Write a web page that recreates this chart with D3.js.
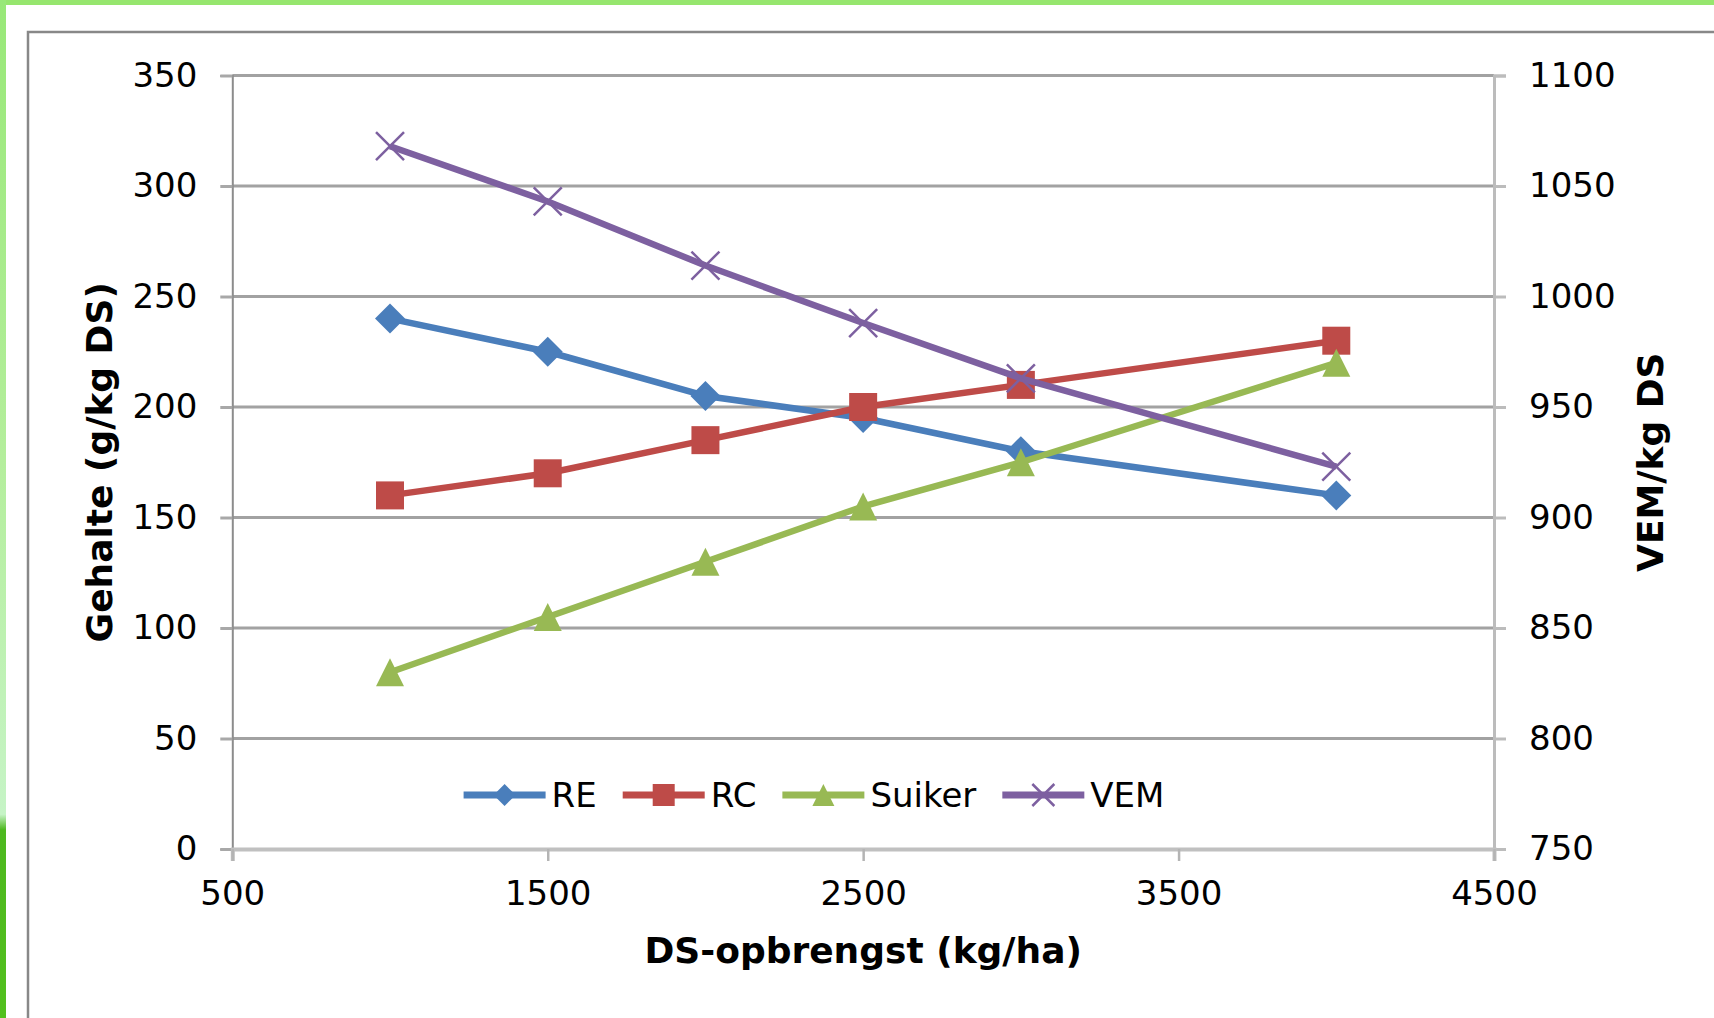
<!DOCTYPE html>
<html>
<head>
<meta charset="utf-8">
<script src="https://cdn.jsdelivr.net/npm/d3@7"></script>
<style>
  html, body { margin: 0; padding: 0; background: #fff; }
  svg { display: block; }
  text { font-family: "DejaVu Sans", Verdana, sans-serif; fill: #000; }
</style>
</head>
<body>
<svg id="chart" width="1714" height="1018"></svg>
<script>
// ---- data ----
const xValues = [1000, 1500, 2000, 2500, 3000, 4000];
const reValues = [240, 225, 205, 195, 180, 160];
const rcValues = [160, 170, 185, 200, 210, 230];
const suikerValues = [80, 105, 130, 155, 175, 220];
const vemValues = [1068, 1043, 1014, 988, 963, 923];
const seriesNames = ["RE", "RC", "Suiker", "VEM"];
const seriesColors = ["#4A7EBB", "#BE4B48", "#98B954", "#7D60A0"];
const seriesMarkers = ["diamond", "square", "triangle", "x"];
const leftTicks = [0, 50, 100, 150, 200, 250, 300, 350];
const rightTicks = [750, 800, 850, 900, 950, 1000, 1050, 1100];
const xTicks = [500, 1500, 2500, 3500, 4500];
const xTitle = "DS-opbrengst (kg/ha)";
const yLeftTitle = "Gehalte (g/kg DS)";
const yRightTitle = "VEM/kg DS";

// ---- layout ----
const W = 1714, H = 1018;
const plot = { left: 232.3, right: 1494, top: 75.5, bottom: 849 };
const svg = d3.select("#chart");

// background / page frame
svg.append("rect").attr("x", 0).attr("y", 0).attr("width", W).attr("height", H).attr("fill", "#ffffff");
const grad = svg.append("defs").append("linearGradient").attr("id", "leftGreen")
  .attr("x1", 0).attr("y1", 0).attr("x2", 0).attr("y2", 1);
grad.append("stop").attr("offset", "0").attr("stop-color", "#98e878");
grad.append("stop").attr("offset", "0.45").attr("stop-color", "#b4ee9c");
grad.append("stop").attr("offset", "0.8").attr("stop-color", "#c6f4c6");
grad.append("stop").attr("offset", "0.815").attr("stop-color", "#4db81f");
grad.append("stop").attr("offset", "1").attr("stop-color", "#52c01e");
svg.append("rect").attr("x", 0).attr("y", 0).attr("width", W).attr("height", 5).attr("fill", "#96e66e");
svg.append("rect").attr("x", 0).attr("y", 0).attr("width", 6).attr("height", H).attr("fill", "url(#leftGreen)");
// chart area border
svg.append("path").attr("d", `M28,${H + 5}V32H${W + 5}`)
  .attr("fill", "none").attr("stroke", "#888888").attr("stroke-width", 2.5);

// ---- scales ----
const x = d3.scaleLinear().domain([500, 4500]).range([plot.left, plot.right]);
const yL = d3.scaleLinear().domain([0, 350]).range([plot.bottom, plot.top]);
const yR = d3.scaleLinear().domain([750, 1100]).range([plot.bottom, plot.top]);

// gridlines
svg.append("g").selectAll("line").data(leftTicks.filter(d => d > 0)).join("line")
  .attr("x1", plot.left).attr("x2", plot.right)
  .attr("y1", d => yL(d)).attr("y2", d => yL(d))
  .attr("stroke", "#a2a2a2").attr("stroke-width", 3);

// left axis
const axL = svg.append("g").attr("transform", `translate(${plot.left},0)`)
  .call(d3.axisLeft(yL).tickValues(leftTicks).tickSize(12).tickPadding(23).tickFormat(d3.format("d")));
axL.select(".domain").attr("stroke", "#8c8c8c").attr("stroke-width", 2);
axL.selectAll(".tick line").attr("stroke", "#a8a8a8").attr("stroke-width", 3);
axL.selectAll(".tick text").attr("font-size", 34).attr("font-family", "DejaVu Sans").attr("fill", "#000");

// right axis
const axR = svg.append("g").attr("transform", `translate(${plot.right},0)`)
  .call(d3.axisRight(yR).tickValues(rightTicks).tickSize(12).tickPadding(23).tickFormat(d3.format("d")));
axR.select(".domain").attr("stroke", "#bcbcbc").attr("stroke-width", 3);
axR.selectAll(".tick line").attr("stroke", "#bcbcbc").attr("stroke-width", 3);
axR.selectAll(".tick text").attr("font-size", 34).attr("font-family", "DejaVu Sans").attr("fill", "#000");

// bottom axis
const axB = svg.append("g").attr("transform", `translate(0,${plot.bottom})`)
  .call(d3.axisBottom(x).tickValues(xTicks).tickSize(12).tickPadding(20).tickFormat(d3.format("d")));
axB.select(".domain").attr("stroke", "#c0c0c0").attr("stroke-width", 4);
axB.selectAll(".tick line").attr("stroke", "#b4b4b4").attr("stroke-width", 2.5);
axB.selectAll(".tick text").attr("font-size", 34).attr("font-family", "DejaVu Sans").attr("fill", "#000");

// axis titles
svg.append("text").attr("x", x(2500)).attr("y", 950).attr("dy", "0.36em")
  .attr("text-anchor", "middle").attr("font-size", 36).attr("font-weight", "bold").text(xTitle);
svg.append("text").attr("transform", `translate(99,${(plot.top + plot.bottom) / 2}) rotate(-90)`)
  .attr("dy", "0.36em").attr("text-anchor", "middle").attr("font-size", 36).attr("font-weight", "bold").text(yLeftTitle);
svg.append("text").attr("transform", `translate(1650,${(plot.top + plot.bottom) / 2}) rotate(-90)`)
  .attr("dy", "0.36em").attr("text-anchor", "middle").attr("font-size", 36).attr("font-weight", "bold").text(yRightTitle);

// ---- marker drawing ----
function markerPath(type, s) {
  const h = s / 2;
  if (type === "diamond") return `M0,${-h}L${h},0L0,${h}L${-h},0Z`;
  if (type === "square") return `M${-h},${-h}H${h}V${h}H${-h}Z`;
  if (type === "triangle") return `M0,${-h}L${h},${h}H${-h}Z`;
  return `M${-h},${-h}L${h},${h}M${h},${-h}L${-h},${h}`;
}
function drawMarker(g, type, color, cx, cy, s) {
  const p = g.append("path").attr("transform", `translate(${cx},${cy})`).attr("d", markerPath(type, s));
  if (type === "x") p.attr("fill", "none").attr("stroke", color).attr("stroke-width", 2.5);
  else p.attr("fill", color).attr("stroke", "none");
}

const seriesData = [
  { values: reValues, scale: yL },
  { values: rcValues, scale: yL },
  { values: suikerValues, scale: yL },
  { values: vemValues, scale: yR }
];
const line = d3.line();
seriesData.forEach((s, i) => {
  const pts = xValues.map((xv, j) => [x(xv), s.scale(s.values[j])]);
  const g = svg.append("g");
  g.append("path").attr("d", line(pts)).attr("fill", "none")
    .attr("stroke", seriesColors[i]).attr("stroke-width", 6.5).attr("stroke-linejoin", "round");
  const size = seriesMarkers[i] === "diamond" ? 30 : 28;
  pts.forEach(p => drawMarker(g, seriesMarkers[i], seriesColors[i], p[0], p[1], size));
});

// ---- legend ----
const legY = 795, lineLen = 82, textGap = 6, itemGap = 26;
const leg = svg.append("g");
const items = seriesNames.map((n, i) => {
  const t = leg.append("text").attr("font-size", 34).attr("dy", "0.36em").attr("y", legY).text(n);
  return { t, w: t.node().getComputedTextLength() };
});
const totalW = d3.sum(items, d => lineLen + textGap + d.w) + itemGap * (items.length - 1);
let cx = 814 - totalW / 2;
items.forEach((it, i) => {
  leg.append("line").attr("x1", cx).attr("x2", cx + lineLen).attr("y1", legY).attr("y2", legY)
    .attr("stroke", seriesColors[i]).attr("stroke-width", 7);
  drawMarker(leg, seriesMarkers[i], seriesColors[i], cx + lineLen / 2, legY, 22);
  it.t.attr("x", cx + lineLen + textGap);
  cx += lineLen + textGap + it.w + itemGap;
});
</script>
</body>
</html>
